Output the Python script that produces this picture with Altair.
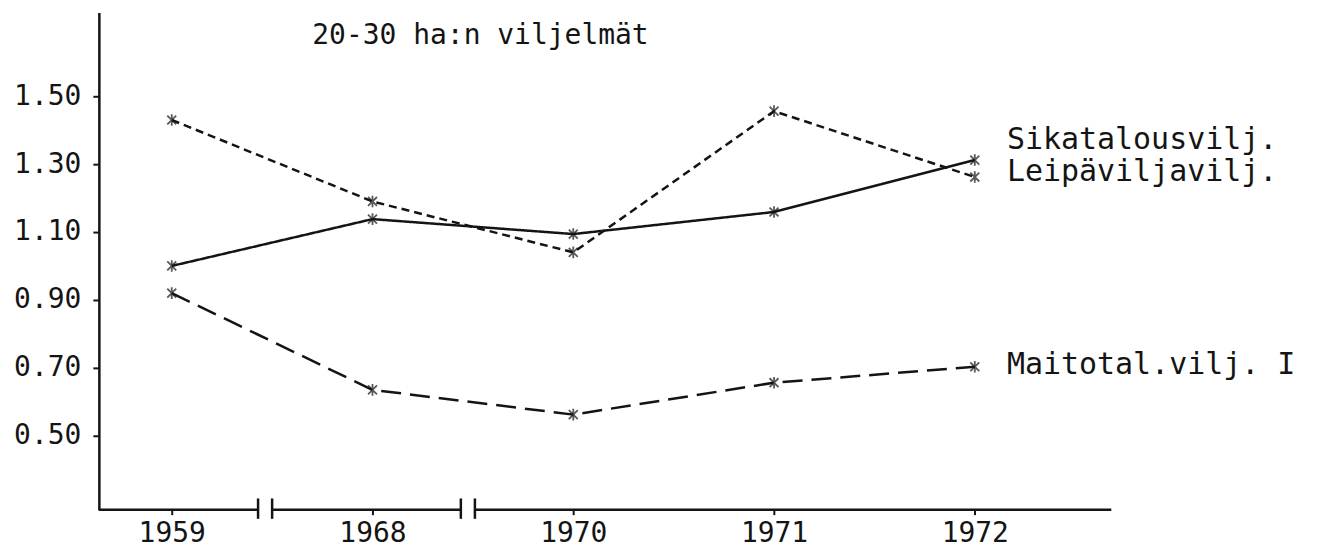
import altair as alt
import pandas as pd

# ---- data ----
years = ["1959", "1968", "1970", "1971", "1972"]
series_names = ["Sikatalousvilj.", "Leipäviljavilj.", "Maitotal.vilj. I"]
sika = [1.43, 1.19, 1.04, 1.456, 1.262]
leipa = [1.00, 1.138, 1.094, 1.159, 1.312]
maito = [0.92, 0.635, 0.562, 0.656, 0.703]
y_ticks = [0.50, 0.70, 0.90, 1.10, 1.30, 1.50]
title_text = "20-30 ha:n viljelmät"

# label placement (data units) for the right-hand series labels
label_y = [1.37, 1.276, 0.709]
label_x = 4.16
title_x, title_y = 0.70, 1.676

# axis-break marks (index units) and axis line pieces
break_x = [0.43, 0.50, 1.44, 1.51]
seg_start = [-0.363, 0.50, 1.51]
seg_end = [0.43, 1.44, 4.68]

X_DOM = [-0.363, 4.68]
Y_DOM = [0.282, 1.747]
FONT = "DejaVu Sans Mono"
FS_TICK = 28
FS_TITLE = 28
FS_LAB = 30
INK = "#141414"

rows = []
for name, vals in zip(series_names, [sika, leipa, maito]):
    for i, v in enumerate(vals):
        rows.append({"series": name, "idx": i, "value": v})
df = pd.DataFrame(rows)

xs = alt.Scale(domain=X_DOM, nice=False, zero=False)
ys = alt.Scale(domain=Y_DOM, nice=False, zero=False)

label_expr = "[" + ",".join(f"'{y}'" for y in years) + "][datum.value]"

x_enc = alt.X(
    "idx:Q", scale=xs, title=None,
    axis=alt.Axis(values=list(range(len(years))), labelExpr=label_expr,
                  grid=False, domain=False, ticks=True, tickSize=5,
                  tickColor=INK, tickWidth=2, labelFont=FONT,
                  labelFontSize=FS_TICK, labelColor=INK, labelPadding=5),
)
y_enc = alt.Y(
    "value:Q", scale=ys, title=None,
    axis=alt.Axis(values=y_ticks, format=".2f", grid=False, domain=True,
                  domainColor=INK, domainWidth=2.5, tickSize=6, tickColor=INK,
                  tickWidth=2, labelFont=FONT, labelFontSize=FS_TICK,
                  labelColor=INK, labelPadding=12),
)

dash = alt.StrokeDash(
    "series:N",
    scale=alt.Scale(domain=series_names, range=[[8, 5], [1, 0], [20, 9]]),
    legend=None,
)

lines = alt.Chart(df).mark_line(color=INK, strokeWidth=2.5).encode(
    x=x_enc, y=y_enc, strokeDash=dash, detail="series:N"
)

star = "M-1,-1L1,1M-1,1L1,-1M0,-1.3L0,1.3"
points = alt.Chart(df).mark_point(
    shape=star, size=80, filled=False, color=INK, strokeWidth=1.8
).encode(x=alt.X("idx:Q", scale=xs), y=alt.Y("value:Q", scale=ys))

seg_df = pd.DataFrame({"x0": seg_start, "x1": seg_end, "yb": [Y_DOM[0]] * 3})
axis_line = alt.Chart(seg_df).mark_rule(color=INK, strokeWidth=2.5).encode(
    x=alt.X("x0:Q", scale=xs), x2="x1:Q", y=alt.Y("yb:Q", scale=ys)
)

br_df = pd.DataFrame({"bx": break_x, "ylo": [0.255] * 4, "yhi": [0.315] * 4})
breaks = alt.Chart(br_df).mark_rule(color=INK, strokeWidth=2.5).encode(
    x=alt.X("bx:Q", scale=xs), y=alt.Y("ylo:Q", scale=ys), y2="yhi:Q"
)

lab_df = pd.DataFrame({"txt": series_names, "lx": [label_x] * 3, "ly": label_y})
labels = alt.Chart(lab_df).mark_text(
    align="left", baseline="middle", font=FONT, fontSize=FS_LAB, color=INK
).encode(x=alt.X("lx:Q", scale=xs), y=alt.Y("ly:Q", scale=ys), text="txt:N")

ttl_df = pd.DataFrame({"txt": [title_text], "tx": [title_x], "ty": [title_y]})
title = alt.Chart(ttl_df).mark_text(
    align="left", baseline="middle", font=FONT, fontSize=FS_TITLE, color=INK
).encode(x=alt.X("tx:Q", scale=xs), y=alt.Y("ty:Q", scale=ys), text="txt:N")

chart = alt.layer(lines, points, axis_line, breaks, labels, title).properties(
    width=1014, height=498,
    autosize=alt.AutoSizeParams(type="none"),
    padding={"left": 91, "top": 4, "right": 210, "bottom": 43},
    background="white",
).configure_view(stroke=None)

chart.save("out.html", embed_options={"renderer": "svg", "actions": False})
